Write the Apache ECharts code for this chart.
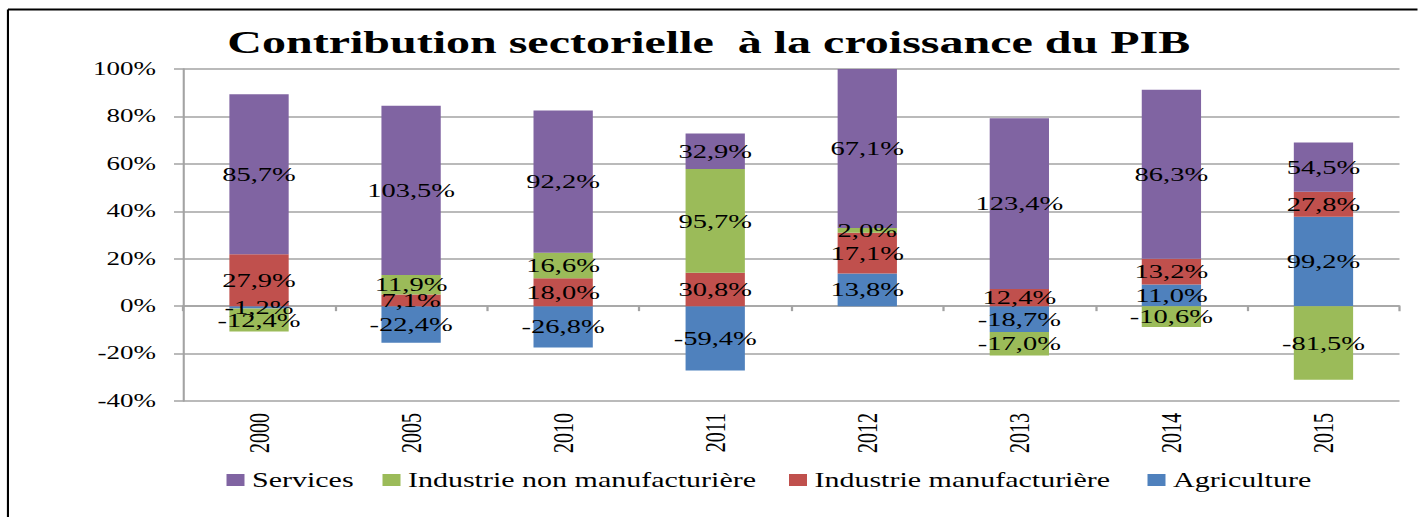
<!DOCTYPE html>
<html>
<head>
<meta charset="utf-8">
<title>Contribution sectorielle à la croissance du PIB</title>
<script src="https://cdn.jsdelivr.net/npm/echarts@6/dist/echarts.min.js"></script>
<style>
    html, body { margin: 0; padding: 0; background: #fff; overflow: hidden; }
    /* the reference picture is stretched sideways, so draw narrow and widen it */
    #chart { width: 945.33px; height: 517px; transform: scaleX(1.5); transform-origin: 0 0; }
</style>
</head>
<body>
<div id="chart"></div>
<script>
var years = ['2000', '2005', '2010', '2011', '2012', '2013', '2014', '2015'];
var services = [85.7, 103.5, 92.2, 32.9, 67.1, 123.4, 86.3, 54.5];
var industrieNonManuf = [-12.4, 11.9, 16.6, 95.7, 2.0, -17.0, -10.6, -81.5];
var industrieManuf = [27.9, 7.1, 18.0, 30.8, 17.1, 12.4, 13.2, 27.8];
var agriculture = [-1.2, -22.4, -26.8, -59.4, 13.8, -18.7, 11.0, 99.2];

var yMin = -40, yMax = 100, yStep = 20;

var font = 'Liberation Serif';
var gridColor = '#a3a3a3';

// stacking order, bottom first
var sectors = [
    { name: 'Agriculture', values: agriculture, color: '#4F81BD' },
    { name: 'Industrie manufacturière', values: industrieManuf, color: '#C0504D' },
    { name: 'Industrie non manufacturière', values: industrieNonManuf, color: '#9BBB59' },
    { name: 'Services', values: services, color: '#8064A2' }
];
var legendOrder = ['Services', 'Industrie non manufacturière', 'Industrie manufacturière', 'Agriculture'];
var legendLeft = [151, 255, 526, 765];

// 100% stacked columns: each share is taken on the sum of absolute values
function share(values, i) {
    var tot = 0;
    sectors.forEach(function(s) { tot += Math.abs(s.values[i]); });
    return values[i] / tot * 100;
}

function fmt(v) {
    return v.toFixed(1).replace('.', ',') + '%';
}

var myChart = echarts.init(document.getElementById('chart'), null, { renderer: 'svg' });

var series = sectors.map(function(s) {
    return {
        name: s.name,
        type: 'bar',
        stack: 'total',
        barWidth: '39%',
        itemStyle: { color: s.color },
        label: {
            show: true,
            position: 'inside',
            color: '#000',
            textBorderWidth: 0,
            fontFamily: font,
            fontSize: 19,
            formatter: function(p) { return fmt(s.values[p.dataIndex]); }
        },
        emphasis: { disabled: true },
        data: s.values.map(function(v, i) { return share(s.values, i); })
    };
});

var option = {
    animation: false,
    backgroundColor: '#fff',
    title: {
        text: 'Contribution sectorielle  à la croissance du PIB',
        left: 'center',
        top: 21,
        textStyle: { fontFamily: font, fontWeight: 'bold', fontSize: 32, color: '#000' }
    },
    legend: legendOrder.map(function(name, k) {
        return {
            data: [name],
            left: legendLeft[k],
            top: 470,
            padding: 0,
            icon: 'rect',
            itemWidth: 12,
            itemHeight: 12,
            textStyle: { fontFamily: font, fontSize: 20, color: '#000' }
        };
    }),
    grid: { left: 122, right: 12, top: 69, bottom: 116, outerBoundsMode: 'none' },
    xAxis: [{
        type: 'category',
        data: years,
        position: 'bottom',
        axisLine: { show: false, onZero: false },
        axisTick: { show: false },
        axisLabel: { rotate: 90, margin: 12, fontFamily: font, fontSize: 20, color: '#000' }
    }, {
        type: 'category',
        data: years,
        position: 'bottom',
        axisLine: { show: true, onZero: true, lineStyle: { color: gridColor, width: 1.5 } },
        axisTick: { show: true, length: 5, interval: 0, lineStyle: { color: gridColor, width: 1.5 } },
        axisLabel: { show: false },
        splitLine: { show: false }
    }],
    yAxis: {
        type: 'value',
        min: yMin,
        max: yMax,
        interval: yStep,
        axisLine: { show: true, lineStyle: { color: gridColor, width: 1.4 } },
        axisTick: { show: true, length: 6, lineStyle: { color: gridColor, width: 1.5 } },
        axisLabel: { formatter: '{value}%', margin: 18, fontFamily: font, fontSize: 18, color: '#000' },
        splitLine: { show: true, lineStyle: { color: gridColor, width: 1.5 } }
    },
    graphic: [
        { type: 'line', shape: { x1: 5.3, y1: 9.5, x2: 946, y2: 9.5 }, style: { stroke: '#000', lineWidth: 2 } },
        { type: 'line', shape: { x1: 5.3, y1: 9.5, x2: 5.3, y2: 517 }, style: { stroke: '#000', lineWidth: 1.4 } }
    ],
    series: series
};

myChart.setOption(option);
</script>
</body>
</html>
